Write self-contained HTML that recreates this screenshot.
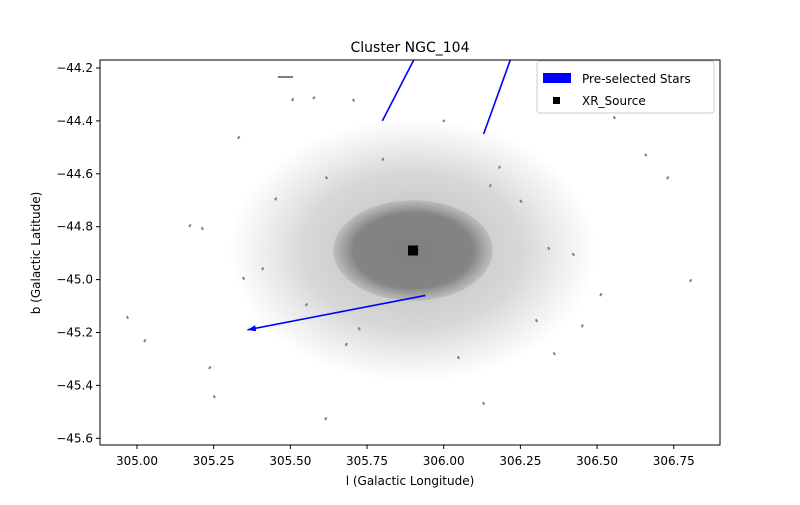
<!DOCTYPE html>
<html><head><meta charset="utf-8"><style>
body{margin:0;background:#fff;font-family:"Liberation Sans","DejaVu Sans",sans-serif}
svg text{font-family:"DejaVu Sans","Liberation Sans",sans-serif}
</style></head><body>
<svg id="chart" width="800" height="500">
<defs>
<radialGradient id="core" cx="50%" cy="50%" r="50%">
<stop offset="0" stop-color="#808080" stop-opacity="1"/>
<stop offset="0.75" stop-color="#808080" stop-opacity="0.95"/>
<stop offset="1" stop-color="#909090" stop-opacity="0.3"/>
</radialGradient>
<radialGradient id="halo" cx="50%" cy="50%" r="50%">
<stop offset="0" stop-color="#808080" stop-opacity="0.55"/>
<stop offset="0.6" stop-color="#909090" stop-opacity="0.35"/>
<stop offset="1" stop-color="#a0a0a0" stop-opacity="0"/>
</radialGradient>
<clipPath id="clip"><rect x="100" y="60" width="620" height="385"/></clipPath>
</defs>
<text x="410" y="52" text-anchor="middle" font-size="14">Cluster NGC_104</text>
<g id="plot" clip-path="url(#clip)"></g>
<g id="axes"></g>
<rect x="100" y="60" width="620" height="385" fill="none" stroke="#000" stroke-width="1"/>
<text x="410" y="485" text-anchor="middle" font-size="12">l (Galactic Longitude)</text>
<text transform="translate(40,253) rotate(-90)" text-anchor="middle" font-size="12">b (Galactic Latitude)</text>
<g>
<rect x="537" y="61" width="177" height="52" fill="#fff" stroke="#ccc" rx="3"/>
<rect x="543" y="73" width="28" height="10" fill="#0000ff"/>
<text x="582" y="83" font-size="12">Pre-selected Stars</text>
<rect x="553" y="97" width="7" height="7" fill="#000"/>
<text x="582" y="105" font-size="12">XR_Source</text>
</g>
</svg>
<script>
const xTicks=[305.00,305.25,305.50,305.75,306.00,306.25,306.50,306.75];
const yTicks=[-44.2,-44.4,-44.6,-44.8,-45.0,-45.2,-45.4,-45.6];
const starL=[305.509,305.505,305.574,305.704,305.329,306.559,306.656,305.170,305.215,304.967,305.023,305.235,305.254,305.613,306.128,306.803,306.728,306.510,306.363,305.998,306.249,305.727,305.408,306.340,305.45,305.62,306.18,306.30,305.55,306.05,305.80,306.42,305.35,306.45,305.68,306.15];
const starB=[-44.234,-44.325,-44.317,-44.317,-44.468,-44.393,-44.525,-44.801,-44.812,-45.138,-45.236,-45.338,-45.448,-45.531,-45.463,-45.009,-44.620,-45.062,-45.285,-44.404,-44.699,-45.191,-44.964,-44.877,-44.70,-44.62,-44.58,-45.15,-45.10,-45.30,-44.55,-44.90,-45.00,-45.18,-45.25,-44.65];
const starU=[-0.05,0.005,0.006,0.004,0.005,-0.005,0.006,0.005,-0.004,0.004,0.005,0.005,-0.004,0.005,0.004,0.004,0.005,0.005,-0.005,0.005,0.006,-0.005,0.004,0.005,0.005,-0.004,0.004,0.005,0.005,-0.004,0.004,0.005,-0.005,0.004,0.005,0.004];
const starV=[0.0,0.01,0.008,-0.01,0.01,0.01,-0.008,0.01,0.01,-0.01,0.01,0.01,0.01,0.01,-0.01,0.01,0.01,0.01,0.01,0.008,-0.01,0.01,0.01,-0.01,0.01,0.01,0.01,-0.01,0.01,0.01,0.01,-0.01,0.01,0.01,0.01,0.01];
const coreL=305.90, coreB=-44.89;
const coreRL=[0.60,0.26], coreRB=[0.50,0.19];
const selL=[305.80,306.13,305.94], selB=[-44.40,-44.45,-45.06];
const selU=[0.20,0.14,-0.58], selV=[0.45,0.45,-0.13];
const xrL=[305.90], xrB=[-44.89];

const x=v=>137+(v-305)*306.7;
const y=v=>68+(-44.2-v)*264.5;
const NS="http://www.w3.org/2000/svg";
const mk=(p,t,a)=>{const e=document.createElementNS(NS,t);for(const k in a)e.setAttribute(k,a[k]);p.appendChild(e);return e;};
const plot=document.getElementById('plot'),axes=document.getElementById('axes');

xTicks.forEach(t=>{
  const l=mk(axes,'line',{x1:x(t),x2:x(t),y1:445,y2:449,stroke:'#000'});
  
  
  const tx=mk(axes,'text',{x:x(t),y:465,'text-anchor':'middle','font-size':12});
  tx.textContent=t.toFixed(2);
  
  
});
yTicks.forEach(t=>{
  const l=mk(axes,'line',{x1:96,x2:100,y1:y(t),y2:y(t),stroke:'#000'});
  
  
  const tx=mk(axes,'text',{x:93,y:y(t)+4,'text-anchor':'end','font-size':12});
  tx.textContent='\u2212'+Math.abs(t).toFixed(1);
  
  
});
const halo=mk(plot,'ellipse',{cx:x(coreL),cy:y(coreB),rx:coreRL[0]*306.7,ry:coreRB[0]*264.5,fill:'url(#halo)'});


const core=mk(plot,'ellipse',{cx:x(coreL),cy:y(coreB),rx:coreRL[1]*306.7,ry:coreRB[1]*264.5,fill:'url(#core)'});


starL.forEach((l,i)=>{
  const x1=x(l),y1=y(starB[i]),x2=x(l+starU[i]),y2=y(starB[i]+starV[i]);
  const a=mk(plot,'line',{x1,y1,x2,y2,stroke:'#808080','stroke-width':2});
  
  
});
selL.forEach((l,i)=>{
  const x1=x(l),y1=y(selB[i]),x2=x(l+selU[i]),y2=y(selB[i]+selV[i]);
  const a=mk(plot,'line',{x1,y1,x2,y2,stroke:'#0000ff','stroke-width':1.6});
  
  
  const ang=Math.atan2(y2-y1,x2-x1),h=9;
  const p=[[x2,y2],[x2-h*Math.cos(ang-0.35),y2-h*Math.sin(ang-0.35)],[x2-h*Math.cos(ang+0.35),y2-h*Math.sin(ang+0.35)]];
  const hd=mk(plot,'polygon',{points:p.map(q=>q.join(',')).join(' '),fill:'#0000ff'});
  
  
});
xrL.forEach((l,i)=>{
  const r=mk(plot,'rect',{x:x(l)-5,y:y(xrB[i])-5,width:10,height:10,fill:'#000'});
  
  
});
</script>
</body></html>
